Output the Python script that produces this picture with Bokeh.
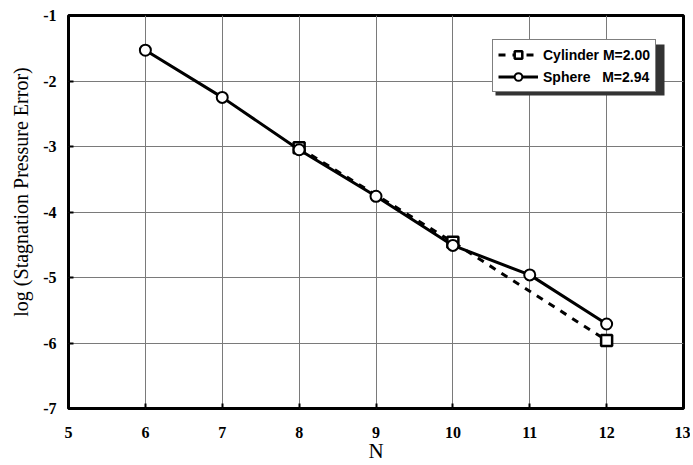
from bokeh.plotting import figure
from bokeh.models import (Range1d, FixedTicker, Legend, LegendItem, BoxAnnotation,
                          CustomJSTickFormatter)
from bokeh.embed import file_html
from bokeh.resources import INLINE

n_sphere = [6, 7, 8, 9, 10, 11, 12]
err_sphere = [-1.53, -2.25, -3.05, -3.76, -4.51, -4.96, -5.71]
n_cyl = [8, 10, 12]
err_cyl = [-3.02, -4.46, -5.96]
x_ticks = [5, 6, 7, 8, 9, 10, 11, 12, 13]
y_ticks = [-7, -6, -5, -4, -3, -2, -1]
label_cyl = "Cylinder M=2.00"
label_sph = "Sphere\u00a0\u00a0\u00a0M=2.94"
x_title = "N"
y_title = "log (Stagnation Pressure Error)"

p = figure(width=690, height=465, output_backend="svg", toolbar_location=None,
           x_range=Range1d(5, 13), y_range=Range1d(-7, -1),
           min_border_left=68, min_border_right=7, min_border_top=15, min_border_bottom=57)
p.outline_line_color = "black"
p.outline_line_width = 3
p.background_fill_color = "white"
p.border_fill_color = "white"

fmt = CustomJSTickFormatter(code="return tick.toString();")
for ax in (p.xaxis[0], p.yaxis[0]):
    ax.axis_line_color = None
    ax.major_tick_in = 5
    ax.major_tick_out = 0
    ax.major_tick_line_width = 2
    ax.major_tick_line_color = "black"
    ax.minor_tick_line_color = None
    ax.major_label_text_font = "Liberation Serif"
    ax.major_label_text_font_style = "bold"
    ax.major_label_text_font_size = "16px"
    ax.major_label_text_color = "black"
    ax.formatter = fmt
    ax.axis_label_text_font = "Liberation Serif"
    ax.axis_label_text_font_style = "normal"
    ax.axis_label_text_color = "black"

p.xaxis.ticker = FixedTicker(ticks=x_ticks)
p.yaxis.ticker = FixedTicker(ticks=y_ticks)
p.xaxis.major_label_standoff = 18
p.yaxis.major_label_standoff = 12
p.xaxis.axis_label = x_title
p.xaxis.axis_label_text_font_size = "21px"
p.xaxis.axis_label_standoff = -2
# leading no-break spaces shift the rotated title upward, as in the source
p.yaxis.axis_label = "\u00a0" * 8 + y_title
p.yaxis.axis_label_text_font_size = "20px"
p.yaxis.axis_label_standoff = 8

p.xgrid.ticker = FixedTicker(ticks=x_ticks)
p.ygrid.ticker = FixedTicker(ticks=y_ticks)
for g in (p.xgrid[0], p.ygrid[0]):
    g.grid_line_color = "#7a7a7a"
    g.grid_line_width = 1

cl = p.line(n_cyl, err_cyl, line_color="black", line_width=3, line_dash="7 7")
cm = p.scatter(n_cyl, err_cyl, marker="square", size=11, fill_color="white",
               line_color="black", line_width=2.5)
sl = p.line(n_sphere, err_sphere, line_color="black", line_width=3)
sm = p.scatter(n_sphere, err_sphere, marker="circle", size=11, fill_color="white",
               line_color="black", line_width=2)

shadow = BoxAnnotation(left=427, right=596, top=364, bottom=313,
                       left_units="screen", right_units="screen",
                       top_units="screen", bottom_units="screen",
                       fill_color="#333333", fill_alpha=1.0, line_color=None, level="overlay")
p.add_layout(shadow)

legend = Legend(items=[LegendItem(label=label_cyl, renderers=[cl, cm]),
                       LegendItem(label=label_sph, renderers=[sl, sm])],
                location=(424, 316))
legend.label_text_font = "Liberation Sans"
legend.label_text_font_style = "bold"
legend.label_text_font_size = "14px"
legend.label_text_color = "black"
legend.glyph_width = 40
legend.glyph_height = 19
legend.label_height = 19
legend.label_standoff = 5
legend.spacing = 3
legend.padding = 5
legend.margin = 0
legend.border_line_color = "black"
legend.border_line_width = 1
legend.background_fill_color = "white"
legend.background_fill_alpha = 1.0
p.add_layout(legend)

open("out.html", "w").write(file_html(p, INLINE))
